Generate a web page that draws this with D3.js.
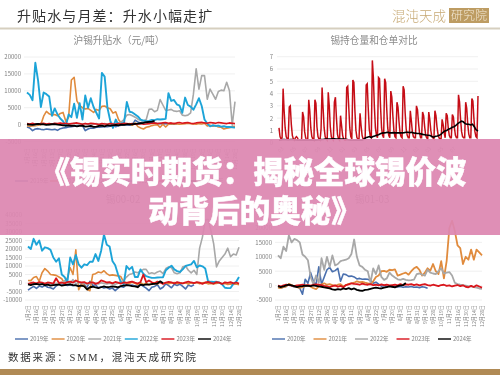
<!DOCTYPE html>
<html lang="zh">
<head>
<meta charset="utf-8">
<script src="https://cdn.jsdelivr.net/npm/d3@7/dist/d3.min.js"></script>
<style>
html,body{margin:0;padding:0;background:#fff;overflow:hidden}
svg{display:block}
text{font-family:"Noto Sans CJK SC","Liberation Sans",sans-serif}
</style>
</head>
<body>
<svg id="c" width="500" height="375"></svg>
<script>
const dateLabels=["1月2日","1月16日","1月30日","2月13日","2月27日","3月12日","3月26日","4月10日","4月24日","5月11日","5月25日","6月8日","6月22日","7月6日","7月20日","8月3日","8月17日","8月31日","9月14日","9月28日","10月19日","11月2日","11月16日","11月30日","12月14日","12月28日"];
const monthLabels=["03","05","07","09","11","01","03","05","07","09","11","01","03","05","07"];

const basis1y2019=[-700,-1000,-1800,-1300,-1200,-1400,-1500,-1300,-1400,-1500,-1400,-1700,-1200,-1000,-900,-700,-600,-500,-400,-100,-300,-1800,-1300,-1000,-1100,-800,-800,-700,-600,-600,-500,-300,-600,-300,-200,-100,-100,-200,-100,1300,800,500,900,800,600,500,500,300,300,200,300,100,200,100,200];
const basis1y2020=[-300,-500,-400,-300,-200,0,2500,3900,3200,2800,3000,2600,3300,3600,1000,2100,13200,14000,7000,5600,5000,4600,4800,4200,3600,4500,4200,5400,5500,5000,4700,3400,3800,1500,400,100,200,300,-200,500,-600,-1000,-1300,-800,-600,-300,-100,0,-800,100,-700,100,200,300,200,100,200,300,400,300,200,100,300,200,400,-400,-200,-500,-300,-700,-800,-1300,-1100,-900,-600,-500];
const basis1y2021=[100,0,200,-100,100,300,200,100,0,200,300,100,0,200,100,300,200,400,300,100,200,300,100,-100,200,300,100,200,300,100,400,300,200,500,800,1500,2800,3000,2600,2200,1600,1200,1000,1500,4500,4600,3800,4200,7400,5800,4200,4300,4500,4000,3900,4100,2800,2600,2800,3500,9000,16500,10500,14500,14500,7500,10500,9000,7500,9800,10200,10000,12500,10000,-200,6800];
const basis1y2022=[9500,8800,7200,18300,13000,5200,9500,9000,8300,2600,4800,3000,1800,1000,-400,3000,2200,6200,2000,6300,1500,8600,5000,7800,5200,3500,1800,15300,14200,5000,1200,-1000,1500,-200,300,600,6700,3800,3600,3000,2400,1500,1200,1000,1100,1400,1300,1600,1500,1600,1700,9300,7000,7300,6000,5600,3500,8000,5800,5300,4400,6000,7800,5500,1500,300,-500,-200,-400,-300,-600,-500,-700,-700,-800,-900];
const basis1y2023=[300,200,400,100,200,300,400,200,300,200,400,300,500,300,400,200,300,400,500,300,100,300,200,400,300,200,0,300,200,100,300,200,100,300,200,400,300,200,300,100,200,300,100,200,300,400,500,300,400,500,600,400,500,300,500,600,400,500,600,400,300,500,600,700,500,400,600,500,400,600,500,400,300,500,400,300];
const basis1y2024=[100,0,-100,100,200,50,100,-100,0,100,150,0,-100,-200,-300,-200,-400,-300,-500,-400,-300,-600,-500,-400,-700,-600,-400,-300,-500,-200,-300,-200,-100,-200,0,-100,100,50,100,200,300,400,500,700,800,900,1100];

const openInterestRatio=[1.2,0.5,0.3,0.4,4.4,2.6,1.2,0.5,0.3,0.3,2.9,3.0,1.5,0.6,0.3,0.2,0.4,0.5,0.4,0.2,0.2,0.2,0.2,2.5,2.1,0.9,0.4,0.2,0.2,3.5,2.6,1.2,0.5,0.3,0.2,3.5,3.2,1.3,0.5,0.3,0.2,1.1,4.5,2.8,1.2,0.5,0.3,0.2,4.1,3.0,1.3,0.5,0.3,0.2,3.3,3.7,2.0,0.7,0.3,0.2,2.2,1.4,0.6,0.3,0.2,0.2,4.5,4.6,2.9,1.2,0.5,0.3,5.1,4.9,2.6,1.0,0.4,0.3,0.3,2.4,1.4,0.6,0.3,0.3,0.4,4.7,4.8,2.8,1.1,0.5,0.4,6.7,5.3,2.9,1.2,0.6,0.4,5.3,5.2,2.9,1.2,0.6,0.4,5.2,4.9,2.8,1.2,0.6,0.4,4.2,3.7,2.2,1.0,0.5,0.4,3.3,2.9,1.7,0.8,0.5,0.4,4.6,4.3,2.4,1.1,0.6,0.4,0.4,2.6,1.8,0.9,0.5,0.4,0.4,3.0,2.7,1.6,0.8,0.4,0.4,2.5,2.2,1.3,0.6,0.4,0.3,2.5,1.9,1.0,0.5,0.4,0.3,2.6,2.2,1.3,0.7,0.4,0.3,0.3,1.9,1.5,0.8,0.4,2.4,2.2,1.2,0.6,0.4,0.4,2.3,2.1,1.2,0.6,0.4,0.4,3.9,3.3,1.9,0.9,0.5,0.4,0.4,3.3,2.8,1.5,0.7,0.4,0.4,3.6,3.4,2.0,0.9,0.5,0.4,3.8];
const warrantRatio=[0.2,0.22,0.25,0.25,0.24,0.22,0.25,0.25,0.24,0.22,0.2,0.2,0.2,0.2,0.22,0.2,0.2,0.22,0.2,0.2,0.2,0.22,0.25,0.25,0.26,0.3,0.3,0.3,0.3,0.32,0.32,0.3,0.3,0.3,0.3,0.3,0.28,0.25,0.22,0.2,0.2,0.2,0.2,0.22,0.2,0.2,0.28,0.4,0.45,0.5,0.42,0.5,0.55,0.6,0.65,0.72,0.78,0.8,0.82,0.85,0.8,0.8,0.82,0.8,0.8,0.8,0.8,0.8,0.82,0.85,0.85,0.82,0.85,0.8,0.78,0.75,0.75,0.72,0.68,0.65,0.62,0.6,0.58,0.5,0.45,0.52,0.55,0.6,0.7,0.85,0.95,1.0,1.1,1.15,1.25,1.3,1.4,1.55,1.65,1.75,1.7,1.55,1.5,1.5,1.45,1.5,1.3,1.05,0.95];

const spread3y2019=[-4200,-3000,-2000,-3200,-1800,-2400,-1500,-2500,-2800,-3500,-1800,-700,-1200,-900,-1500,-1000,-1600,-1100,-2000,-800,-1000,-2500,1000,-1500,-1000,-2800,-2200,-3000,-2500,-3500,-3000,-4500,-3000,-2000,-2500,-1000,-1500,-1200,-1800,-1500,-800,-2000,-3000,-4500,-2500,-2000,-1000,-3500,-2500,-500,-1500,-2800,-800,-1500,-600,-2000,-3500,-1200,-2000,-1000];
const spread3y2020=[1500,1400,3200,3800,1000,6000,8500,7000,5000,4800,4500,3500,2500,-200,3000,9000,5000,19500,-4000,-800,-1500,-3800,-4500,5000,5500,6500,6000,7200,5500,4500,4800,4500,4200,3800,500,200,-300,500,-200,-1000,200,-800,-300,-1000,-500,200,-700,500,-400,100,-500,0,300,-400,200,-300,100,-600,200,-200,300,-400,100,200,-500,-300,-600,-200,100,-400,-300,-900,-500,-800,-600,-1000];
const spread3y2021=[-800,-600,-900,-700,-500,-800,-600,-300,-700,-500,-200,-600,-300,1500,500,-200,2000,-500,300,-300,-100,-700,-400,300,-200,-600,100,-300,-600,-100,-500,-700,-200,700,1500,3500,5000,5500,6500,6000,7000,8000,8000,5500,6000,5500,6500,7000,5500,8500,9500,9000,6000,5500,6000,9500,10000,7500,6000,7500,5000,20500,27000,37000,37500,31000,23000,9500,13000,15000,17000,20500,15500,17000,16500,21000];
const spread3y2022=[21500,20000,26000,22500,25000,19000,21000,20500,19500,15000,12500,14500,5000,3500,500,15000,11000,16500,11000,9000,11000,10500,12500,12500,17000,13000,19000,28500,22500,21500,13000,10500,5000,500,-800,10000,8000,9500,3500,3500,8000,5500,4000,3500,3000,3000,3200,3300,3400,7500,9000,10200,8000,7000,6500,8000,10000,10500,11000,13000,9200,10300,9800,8500,1000,700,600,700,300,-800,-2800,-3000,-3000,-500,800,3500];
const spread3y2023=[-500,0,300,-200,500,200,-400,300,100,-300,2800,0,300,-200,500,800,200,1500,600,300,500,-300,200,400,-500,100,1500,1000,300,500,-200,600,200,-400,300,100,500,800,200,-300,600,5000,500,1500,400,-200,800,300,-500,200,700,400,-300,500,100,-200,400,800,300,-100,500,200,-500,300,600,100,-300,500,200,-600,400,100,500,-200,300,-400];
const spread3y2024=[-800,-1200,-700,-500,-900,-600,-1200,-1000,-1500,-1300,-1100,-900,-1600,-1300,-1000,-800,-1200,-1400,-1800,-1500,-2000,-3800,-2500,-2200,-2600,-3000,-2500,-2000,-2500,-2300,-2000,-2200,-2600,-1800,-1500,-1200,-1400,-1800,-2000,-2500,-1000,-1200,-800,-1000,-600,-500,-300,1000,-200];

const spread4y2020=[-500,-800,-600,-300,400,-100,-500,-400,-900,-3000,2200,800,4500,1500,300,6500,500,3000,5500,6300,4800,5200,6000,1500,4000,3800,3200,3300,3000,2300,2500,2200,2300,2200,1800,800,1200,500,-200,0,-300,-100,-400,-200,-500,-300,-600,-400,-500,-300,-600,-500,-700,-400,-600,-900];
const spread4y2021=[-700,-900,-500,-300,600,200,-300,-500,-800,-500,-200,100,-400,-900,-1200,-300,400,800,300,500,200,-100,300,500,-300,200,600,800,1000,1500,1200,1300,1000,800,500,1500,3000,3500,5000,5100,4800,5500,5400,5600,3500,3800,4200,4500,3800,5000,6000,6500,5500,3500,4500,6000,5200,7500,5000,4000,8500,2500,8500,20000,22500,19000,14000,13000,7500,10000,9000,12500,9000,12500,11500,10500];
const spread4y2022=[10500,9500,13500,12000,17500,15000,16200,15800,15000,10800,10000,8800,3000,500,3500,1000,9500,5500,10000,6500,10500,7000,7500,8500,8800,9000,9500,11000,16000,10000,7000,6500,5500,5000,1000,6000,4000,7000,3000,2000,2500,4500,3500,2800,2200,2000,2300,2000,1800,1900,2100,4000,4200,3800,3500,5500,4500,4200,4000,5000,6000,4200,4500,4700,3500,1000,500,300,200,0,-200,-300,-500,-700,-1000,-1100];
const spread4y2023=[0,-300,100,300,200,0,-200,100,200,300,100,200,0,300,400,300,200,-100,-300,-500,-200,100,-400,-100,-600,200,400,800,600,500,300,700,400,300,500,200,300,100,400,200,300,100,200,300,100,500,200,400,300,500,200,400,100,300,500,200,0,300,100,-200,200,300,-100,100,-300,0,200,-200,100,-400,-600,-100,-500,100,-300,-700];
const spread4y2024=[-200,-500,-300,100,300,100,-200,-500,-300,-200,0,-100,-200,100,-100,-300,-400,-600,-800,-1000,-1300,-1500,-1200,-1400,-1000,-1200,-900,-1300,-1000,-1500,-1700,-1800,-1500,-1400,-1100,-900,-700,-900,-1000,-700,-500,-300,-400,-600,-200,100,200,900];

const yearColors={"2019年":"#4a6fae","2020年":"#e08b3e","2021年":"#a8a8a8","2022年":"#1fa4d8","2023年":"#d9161c","2024年":"#000000"};
const svg=d3.select("#c");
const charts=svg.append("g").attr("filter","url(#soft)");
svg.append("defs").append("filter").attr("id","soft").attr("x",0).attr("y",0).attr("width",1).attr("height",1)
  .append("feGaussianBlur").attr("stdDeviation",0.35);

function panel(o){
  const g=charts.append("g");
  const x=d3.scaleLinear().domain([0,75]).range([o.x0,o.x1]);
  const y=d3.scaleLinear().domain(o.yDomain).range([o.yBottom,o.yTop]);
  const yAxis=d3.axisLeft(y).tickValues(o.yTicks).tickSize(0).tickPadding(0).tickFormat(d=>d);
  const ya=g.append("g").attr("transform",`translate(${o.x0-6},0)`).call(yAxis);
  ya.select(".domain").remove();
  ya.selectAll("text").attr("font-size",6).attr("fill","#808080");
  g.append("g").selectAll("line").data(o.yTicks).join("line")
    .attr("x1",o.x0-3).attr("x2",o.x1).attr("y1",d=>y(d)).attr("y2",d=>y(d))
    .attr("stroke","#ececec").attr("stroke-width",0.8);
  g.append("g").selectAll("text").data(dateLabels).join("text")
    .attr("transform",(d,i)=>`translate(${x(i*3)+2},${o.tickY}) rotate(-90)`)
    .attr("text-anchor","end").attr("font-size",5.2).attr("fill","#858585").text(d=>d);
  const line=d3.line().x((d,i)=>x(i)).y(d=>y(d)).curve(d3.curveLinear);
  o.series.forEach(s=>{
    g.append("path").attr("d",line(s.values)).attr("fill","none")
      .attr("stroke",yearColors[s.name]).attr("stroke-width",s.width||1.6).attr("stroke-linejoin","round");
  });
  g.append("text").attr("x",o.titleX).attr("y",o.titleY).attr("text-anchor","middle")
    .attr("font-size",9.7).attr("fill","#8a8a8a").text(o.title);
  const lg=g.append("g").selectAll("g").data(o.series).join("g")
    .attr("transform",(d,i)=>`translate(${o.legendX+i*o.legendStep},${o.legendY})`);
  lg.append("line").attr("x1",0).attr("x2",13).attr("stroke",d=>yearColors[d.name]).attr("stroke-width",1.4);
  lg.append("text").attr("x",15).attr("y",2).attr("font-size",5.8).attr("fill","#808080").text(d=>d.name);
}

panel({x0:27,x1:235,yDomain:[-5000,20000],yTop:57,yBottom:141.5,yTicks:[-5000,0,5000,10000,15000,20000],tickY:148,
  title:"沪锡升贴水（元/吨）",titleX:119,titleY:44,legendX:15,legendStep:35,legendY:181,
  series:[{name:"2019年",values:basis1y2019},{name:"2020年",values:basis1y2020},{name:"2021年",values:basis1y2021},{name:"2022年",values:basis1y2022,width:1.9},{name:"2023年",values:basis1y2023},{name:"2024年",values:basis1y2024,width:1.8}]});
panel({x0:28,x1:239,yDomain:[-10000,40000],yTop:215,yBottom:300,yTicks:[-10000,-5000,0,5000,10000,15000,20000,25000,30000,35000,40000],tickY:305,
  title:"锡00-02",titleX:123,titleY:203,legendX:15,legendStep:36.6,legendY:339,
  series:[{name:"2019年",values:spread3y2019},{name:"2020年",values:spread3y2020},{name:"2021年",values:spread3y2021},{name:"2022年",values:spread3y2022,width:1.9},{name:"2023年",values:spread3y2023,width:1.8},{name:"2024年",values:spread3y2024,width:1.8}]});

const p4Colors={"2020年":"#4a6fae","2021年":"#e08b3e","2022年":"#a8a8a8","2023年":"#d9161c","2024年":"#000000"};
Object.assign(yearColors,p4Colors);
panel({x0:278,x1:482,yDomain:[-5000,20000],yTop:228,yBottom:300,yTicks:[-5000,0,5000,10000,15000,20000],tickY:305,
  title:"锡01-03",titleX:372,titleY:203,legendX:272,legendStep:41.5,legendY:339,
  series:[{name:"2020年",values:spread4y2020},{name:"2021年",values:spread4y2021,width:1.8},{name:"2022年",values:spread4y2022,width:1.8},{name:"2023年",values:spread4y2023,width:1.8},{name:"2024年",values:spread4y2024,width:1.8}]});

// panel 2
{
  const g=charts.append("g");
  const x=d3.scaleLinear().domain([0,openInterestRatio.length-1]).range([279,478]);
  const y=d3.scaleLinear().domain([0,7]).range([142.7,56.7]);
  const ticks=d3.range(0,8);
  const ya=g.append("g").attr("transform","translate(273,0)").call(d3.axisLeft(y).tickValues(ticks).tickSize(0).tickPadding(0).tickFormat(d=>d));
  ya.select(".domain").remove();
  ya.selectAll("text").attr("font-size",6).attr("fill","#808080");
  g.append("g").selectAll("line").data(ticks).join("line")
    .attr("x1",277).attr("x2",478).attr("y1",d=>y(d)).attr("y2",d=>y(d))
    .attr("stroke","#ececec").attr("stroke-width",0.8);
  const lx=d3.scalePoint().domain(d3.range(monthLabels.length)).range([280,452]);
  g.append("g").selectAll("text").data(monthLabels).join("text")
    .attr("transform",(d,i)=>`translate(${lx(i)},153) rotate(-45)`)
    .attr("font-size",5.2).attr("fill","#858585").text(d=>d);
  g.append("path").attr("d",d3.line().x((d,i)=>x(i)).y(d=>y(d))(openInterestRatio))
    .attr("fill","none").attr("stroke","#c50f18").attr("stroke-width",1.5);
  const wx=d3.scaleLinear().domain([0,warrantRatio.length-1]).range([279,478]);
  g.append("path").attr("d",d3.line().x((d,i)=>wx(i)).y(d=>y(d))(warrantRatio))
    .attr("fill","none").attr("stroke","#000").attr("stroke-width",1.6);
  g.append("text").attr("x",374).attr("y",44).attr("text-anchor","middle")
    .attr("font-size",9.7).attr("fill","#8a8a8a").text("锡持仓量和仓单对比");
}

// header & footer
const headerFont='"Liberation Serif","Noto Sans CJK SC",serif';
charts.append("text").attr("x",17).attr("y",21).attr("font-size",14).attr("letter-spacing",1.1).attr("fill","#333").text("升贴水与月差：升水小幅走扩");
charts.append("rect").attr("x",0).attr("y",27.5).attr("width",500).attr("height",2).attr("fill","#d6cfbf");
charts.append("text").attr("x",392).attr("y",21).attr("font-size",13.5).attr("font-weight",300).attr("fill","#c7a974").text("混沌天成");
charts.append("rect").attr("x",449).attr("y",8).attr("width",40).attr("height",15).attr("fill","#bd9c62");
charts.append("text").attr("x",469).attr("y",20).attr("text-anchor","middle").attr("font-size",12).attr("font-weight",300).attr("fill","#f3e9d6").text("研究院");
charts.append("text").attr("x",8).attr("y",361).attr("font-size",10.5).attr("letter-spacing",1.8).attr("fill","#333").style("font-family",headerFont).text("数据来源：SMM，混沌天成研究院");
charts.append("rect").attr("x",0).attr("y",369).attr("width",500).attr("height",6).attr("fill","#b08a55");

// overlay
svg.append("rect").attr("x",0).attr("y",139).attr("width",500).attr("height",96).attr("fill","#dd87b0").attr("fill-opacity",0.93);
const bandTitle=svg.append("g").attr("fill","#fff").attr("stroke","#fff").attr("stroke-width",0.5).attr("text-anchor","middle").attr("font-size",30.5).attr("font-weight",900);
bandTitle.append("text").attr("x",253).attr("y",183).text("《锡实时期货：揭秘全球锡价波");
bandTitle.append("text").attr("x",255).attr("y",222).text("动背后的奥秘》");
</script>
</body>
</html>
